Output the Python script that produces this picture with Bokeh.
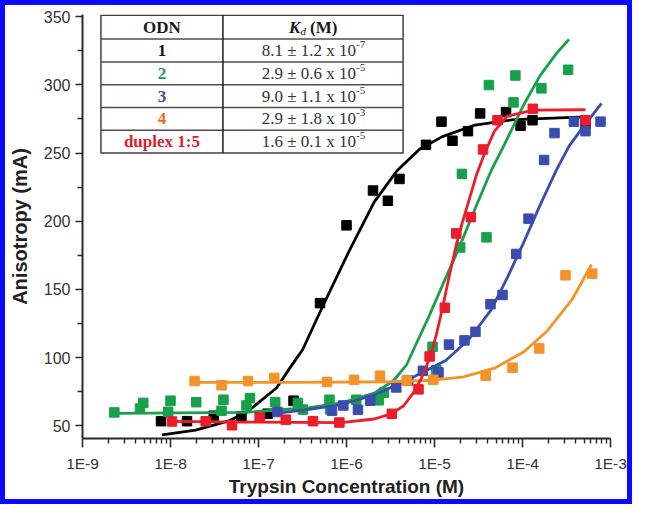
from bokeh.plotting import figure
from bokeh.models import FixedTicker, CustomJSTickFormatter, Range1d
from bokeh.core.properties import value
from bokeh.embed import file_html
from bokeh.resources import INLINE

# ---------------- data ----------------
# ODN 1 (black)
odn1_conc = [7.8e-9, 1.54e-8, 3.1e-8, 6.4e-8, 1.27e-7, 2.5e-7, 5.0e-7, 1.0e-6, 2.0e-6, 2.95e-6,
             4.0e-6, 8.0e-6, 1.2e-5, 1.6e-5, 2.4e-5, 3.3e-5, 6.5e-5, 9.5e-5, 1.3e-4, 5.2e-4]
odn1_aniso = [53.5, 53.5, 57.5, 57, 59, 68.5, 140, 197, 222.5, 215,
              231, 256, 273, 259, 266, 279, 280, 270, 274, 271]
odn1_fit_conc = [8.0e-9, 1.93e-8, 4.5e-8, 7.5e-8, 1.61e-7, 2.36e-7, 3.18e-7, 5.3e-7, 1.05e-6,
                 2.06e-6, 3.75e-6, 6.8e-6, 1.23e-5, 2.88e-5, 8.0e-5, 5.2e-4]
odn1_fit_aniso = [43.5, 47, 53.5, 60.4, 78, 94, 106, 137, 177, 214, 237, 253, 262, 270.5, 274.5, 276.5]

# ODN 2 (green)
odn2_conc = [2.3e-9, 4.5e-9, 4.9e-9, 9.4e-9, 1.0e-8, 1.96e-8, 3.8e-8, 4.0e-8, 7.3e-8, 8.0e-8,
             1.55e-7, 2.8e-7, 3.2e-7, 6.4e-7, 6.5e-7, 1.29e-6, 2.33e-6, 2.66e-6, 9.5e-6, 1.05e-5,
             1.96e-5, 2.05e-5, 3.9e-5, 4.15e-5, 7.9e-5, 8.3e-5, 1.64e-4, 3.3e-4]
odn2_aniso = [59.9, 62.7, 66.9, 60.4, 68.5, 67.4, 61.1, 69.2, 65, 70.4,
              67.4, 66.9, 62, 69.2, 62.2, 69.2, 68.8, 74.4, 108, 90.8,
              180.8, 234.7, 188.2, 299.8, 287.1, 306.8, 297.4, 311]
odn2_fit_conc = [2.3e-9, 6.9e-8, 3.78e-7, 8.8e-7, 2.07e-6, 3.44e-6, 4.83e-6, 8.75e-6, 1.34e-5,
                 1.88e-5, 2.88e-5, 4.4e-5, 6.2e-5, 1.03e-4, 1.57e-4, 2.41e-4, 3.38e-4]
odn2_fit_aniso = [59.2, 59.9, 63.4, 66.9, 74, 83.3, 95, 131, 158.5, 179.6, 209, 237, 256, 285.2,
                  306.3, 322.7, 333.3]

# ODN 3 (blue)
odn3_conc = [1.64e-7, 6.84e-7, 9.2e-7, 1.35e-6, 1.86e-6, 3.68e-6, 5.04e-6, 7.38e-6, 1.11e-5,
             1.46e-5, 2.19e-5, 2.92e-5, 4.33e-5, 5.93e-5, 8.5e-5, 1.17e-4, 1.76e-4, 2.31e-4,
             3.84e-4, 5.2e-4, 7.7e-4]
odn3_aniso = [60.2, 61.1, 65, 61.8, 68.5, 78.2, 83.3, 90.4, 89.2,
              109.6, 112.7, 119, 139.2, 146, 176, 201.9, 244.9, 264.6,
              273, 266, 273]
odn3_fit_conc = [1.58e-7, 3.78e-7, 8.8e-7, 2.07e-6, 4.83e-6, 1.34e-5, 2.43e-5, 4.4e-5, 6.7e-5,
                 1.03e-4, 1.57e-4, 2.41e-4, 3.38e-4, 4.76e-4, 7.9e-4]
odn3_fit_aniso = [59.2, 62.2, 65.7, 72.7, 83.3, 98, 113, 135, 158.5, 184.3, 211.3, 237.1, 255,
                  268, 286.4]

# ODN 4 (orange)
odn4_conc = [1.88e-8, 3.8e-8, 7.6e-8, 1.51e-7, 6.0e-7, 1.22e-6, 2.4e-6, 4.83e-6, 9.7e-6,
             3.81e-5, 7.7e-5, 1.55e-4, 3.08e-4, 6.2e-4]
odn4_aniso = [82.9, 79.8, 82.9, 85.2, 82.2, 83.8, 86.8, 83.3, 83.8,
              86.8, 92.7, 106.8, 160.4, 161.6]
odn4_fit_conc = [1.88e-8, 2.47e-7, 3.16e-6, 9.7e-6, 2.14e-5, 4.8e-5, 1.03e-4, 1.87e-4, 3.69e-4,
                 6.1e-4]
odn4_fit_aniso = [82.0, 82.0, 82.4, 83.5, 85.9, 92.3, 104.2, 119, 143, 168.3]

# duplex 1:5 (red)
dup_conc = [1.04e-8, 2.51e-8, 5.0e-8, 1.03e-7, 2.04e-7, 4.16e-7, 8.3e-7, 3.27e-6, 6.58e-6,
            8.8e-6, 1.31e-5, 1.77e-5, 2.59e-5, 3.56e-5, 5.2e-5, 1.31e-4, 5.2e-4]
dup_aniso = [53.3, 53.4, 50.5, 56.3, 54.6, 53.5, 52.5, 58.9, 76.8,
             100.9, 136.6, 191.1, 203, 252.6, 274, 282.4, 274]
dup_fit_conc = [1.04e-8, 6.9e-8, 8.8e-7, 2.07e-6, 3.16e-6, 4.44e-6, 5.72e-6, 7.05e-6, 8.75e-6,
                1.05e-5, 1.23e-5, 1.45e-5, 1.73e-5, 2.05e-5, 2.43e-5, 3.0e-5, 3.72e-5, 4.8e-5,
                6.7e-5, 1.33e-4, 5.2e-4]
dup_fit_aniso = [53.3, 52.8, 52.5, 55.1, 58.7, 64.6, 74, 84.5, 99, 117, 136, 158, 180, 198, 214,
                 234, 250, 266, 277, 281.5, 281.7]

series_colors = ["#000000", "#18a04a", "#3a4cb0", "#f5922a", "#ec1c2a"]

# table
table_odn = ["1", "2", "3", "4", "duplex 1:5"]
table_odn_colors = ["#111111", "#1d9a4e", "#3d4aa0", "#f26a22", "#e0202c"]
table_kd = ["8.1 ± 1.2 x 10", "2.9 ± 0.6 x 10", "9.0 ± 1.1 x 10", "2.9 ± 1.8 x 10", "1.6 ± 0.1 x 10"]
table_kd_exp = ["-7", "-5", "-5", "-3", "-5"]

# axes
x_decades = [-9, -8, -7, -6, -5, -4, -3]
x_tick_labels = ["1E-9", "1E-8", "1E-7", "1E-6", "1E-5", "1E-4", "1E-3"]
y_ticks = [50, 100, 150, 200, 250, 300, 350]
y_minor_ticks = [75, 125, 175, 225, 275, 325]

# ---------------- figure ----------------
p = figure(width=622, height=494, x_axis_type="log",
           x_range=Range1d(1e-9, 1e-3), y_range=Range1d(40.8, 351.5),
           output_backend="svg", toolbar_location=None,
           min_border_left=71, min_border_right=17, min_border_top=9, min_border_bottom=57)
p.margin = (5, 0, 0, 5)
p.styles = {"outline": "5px solid #0a0aff"}
p.outline_line_color = None
p.xgrid.visible = False
p.ygrid.visible = False
p.background_fill_color = "white"
p.border_fill_color = "white"

AX = "#2a2a2a"
xa = p.xaxis[0]
xa.ticker = FixedTicker(ticks=[10.0 ** e for e in x_decades],
                        minor_ticks=[m * 10.0 ** e for e in x_decades[:-1] for m in range(2, 10)])
xa.formatter = CustomJSTickFormatter(
    args=dict(decades=x_decades, labels=x_tick_labels),
    code="const e = Math.round(Math.log10(tick)); const i = decades.indexOf(e); return i >= 0 ? labels[i] : '';")
xa.axis_label = "Trypsin Concentration (M)"
xa.major_tick_out = 9
xa.major_tick_in = 0
xa.minor_tick_out = 5
xa.minor_tick_in = 0
xa.major_label_standoff = 7
xa.axis_label_standoff = 1

ya = p.yaxis[0]
ya.ticker = FixedTicker(ticks=y_ticks, minor_ticks=y_minor_ticks)
ya.axis_label = "Anisotropy (mA)"
ya.major_tick_out = 7
ya.major_tick_in = 0
ya.minor_tick_out = 5
ya.minor_tick_in = 0
ya.major_label_standoff = 5
ya.axis_label_standoff = 10

for ax in (xa, ya):
    ax.axis_line_color = AX
    ax.axis_line_width = 2
    ax.major_tick_line_color = AX
    ax.major_tick_line_width = 1.6
    ax.minor_tick_line_color = AX
    ax.minor_tick_line_width = 1.4
    ax.major_label_text_font = "Liberation Sans"
    ax.major_label_text_font_size = "16px"
    ax.major_label_text_color = "#333333"
    ax.axis_label_text_font = "Liberation Sans"
    ax.axis_label_text_font_size = "20px"
    ax.axis_label_text_font_style = "bold"
    ax.axis_label_text_color = "#222222"
xa.major_label_text_font_size = "15.5px"
xa.axis_label_text_font_size = "19px"

# ---------------- series ----------------
series = [
    (odn1_fit_conc, odn1_fit_aniso, odn1_conc, odn1_aniso),
    (odn2_fit_conc, odn2_fit_aniso, odn2_conc, odn2_aniso),
    (odn3_fit_conc, odn3_fit_aniso, odn3_conc, odn3_aniso),
    (odn4_fit_conc, odn4_fit_aniso, odn4_conc, odn4_aniso),
    (dup_fit_conc, dup_fit_aniso, dup_conc, dup_aniso),
]
for (fx, fy, px, py), col in zip(series, series_colors):
    p.line(fx, fy, line_color=col, line_width=2.8, line_join="round")
    p.scatter(px, py, marker="square", size=9.5, fill_color=col, line_color=col)

# ---------------- table inset ----------------
tab_x = [1.62e-9, 3.94e-8, 4.4e-6]          # left, divider, right (positions)
tab_y = [351.0, 333.5, 316.7, 300.0, 283.3, 266.7, 250.0]   # row boundaries (positions)
p.quad(left=tab_x[0], right=tab_x[2], top=tab_y[0], bottom=tab_y[-1],
       fill_color="white", line_color="#4a3c3c", line_width=1.5)
p.segment(x0=[tab_x[0]] * 5, x1=[tab_x[2]] * 5, y0=tab_y[1:-1], y1=tab_y[1:-1],
          line_color="#5a4848", line_width=1.4)
p.segment(x0=[tab_x[1]], x1=[tab_x[1]], y0=[tab_y[0]], y1=[tab_y[-1]],
          line_color="#1a1a1a", line_width=1.5)

col1 = (tab_x[0] * tab_x[1]) ** 0.5
col2 = (tab_x[1] * tab_x[2]) ** 0.5
row_c = [(tab_y[i] + tab_y[i + 1]) / 2 for i in range(len(tab_y) - 1)]
SERIF = value("Liberation Serif")

p.text(x=[col1], y=[row_c[0]], text=["ODN"], text_font=SERIF, text_font_style="bold",
       text_font_size="17px", text_align="center", text_baseline="middle", text_color="#1a1a1a")
p.text(x=[col2], y=[row_c[0]], text=["K"], text_font=SERIF, text_font_style="bold italic",
       text_font_size="17px", text_align="left", text_baseline="middle", text_color="#1a1a1a",
       x_offset=-24)
p.text(x=[col2], y=[row_c[0]], text=["d"], text_font=SERIF, text_font_style="italic",
       text_font_size="11px", text_align="left", text_baseline="middle", text_color="#1a1a1a",
       x_offset=-12.5, y_offset=4)
p.text(x=[col2], y=[row_c[0]], text=["(M)"], text_font=SERIF, text_font_style="bold",
       text_font_size="17px", text_align="left", text_baseline="middle", text_color="#1a1a1a",
       x_offset=-3)

p.text(x=[col1] * 5, y=row_c[1:], text=table_odn, text_color=table_odn_colors, text_font=SERIF,
       text_font_style="bold", text_font_size="17px", text_align="center", text_baseline="middle")
p.text(x=[col2] * 5, y=row_c[1:], text=table_kd, text_color="#333333", text_font=SERIF,
       text_font_size="17px", text_align="right", text_baseline="middle", x_offset=43)
p.text(x=[col2] * 5, y=row_c[1:], text=table_kd_exp, text_color="#333333", text_font=SERIF,
       text_font_size="11px", text_align="left", text_baseline="middle", x_offset=43, y_offset=-6)

open("out.html", "w").write(file_html(p, INLINE))
